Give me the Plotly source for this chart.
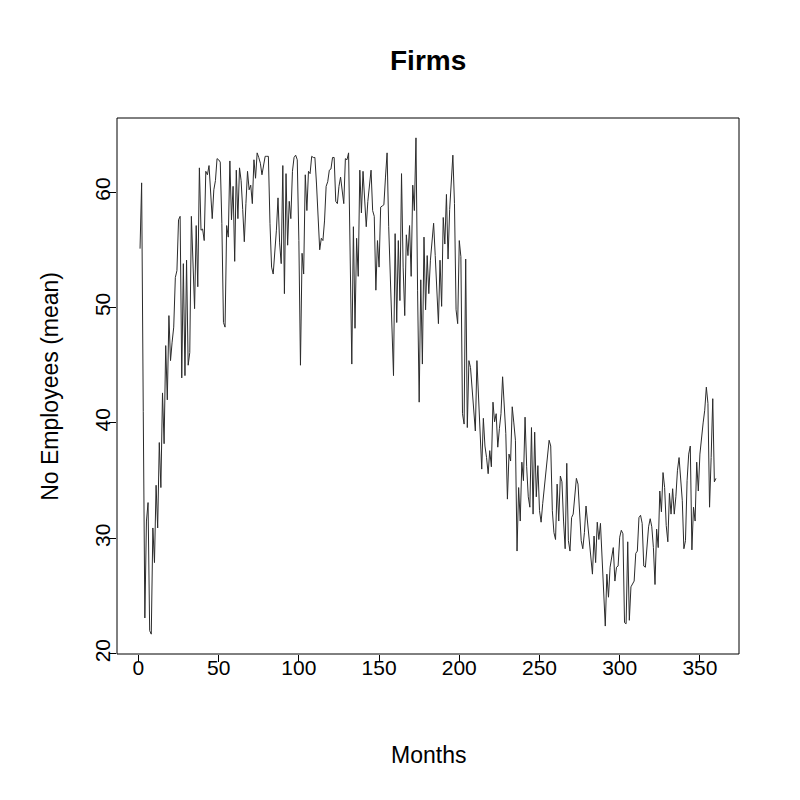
import plotly.graph_objects as go

# mean number of employees per month
months = list(range(1, 361))
employees = [
    55.1, 60.8, 41.0, 23.1, 31.5, 33.1, 22.0, 21.7, 30.9, 27.9,
    34.6, 30.9, 38.3, 34.4, 42.6, 38.2, 46.7, 42.0, 49.3, 45.4,
    47.0, 48.3, 52.6, 53.2, 57.6, 57.9, 43.9, 53.8, 44.1, 54.1,
    45.0, 46.1, 57.9, 53.0, 49.9, 57.1, 51.8, 62.1, 56.7, 56.8,
    55.8, 61.8, 61.5, 62.3, 59.5, 57.7, 60.2, 61.0, 62.9, 62.8,
    62.6, 57.3, 48.7, 48.3, 57.1, 56.1, 62.7, 57.6, 60.5, 54.0,
    61.9, 57.7, 62.1, 61.0, 58.5, 55.7, 59.0, 61.8, 60.2, 60.6,
    59.0, 62.8, 61.2, 63.4, 63.0, 62.5, 61.5, 62.2, 63.1, 63.1,
    63.1, 57.3, 53.5, 52.9, 54.5, 56.7, 59.5, 55.6, 53.8, 62.3,
    51.2, 61.6, 55.4, 59.2, 57.7, 61.8, 63.0, 63.2, 62.8, 55.8,
    45.0, 54.7, 52.9, 61.5, 58.4, 61.8, 61.6, 63.1, 63.0, 63.0,
    60.7, 57.0, 55.0, 56.0, 55.8, 57.5, 60.5, 60.9, 61.9, 62.0,
    63.0, 63.0, 59.2, 59.0, 60.5, 61.3, 60.0, 59.0, 62.9, 62.8,
    63.4, 55.0, 45.1, 57.0, 48.2, 56.0, 52.7, 61.9, 58.2, 61.8,
    59.0, 57.0, 59.2, 60.5, 61.9, 58.4, 57.9, 51.5, 55.8, 53.5,
    58.7, 58.8, 58.9, 61.3, 63.4, 57.0, 52.9, 47.0, 44.1, 56.4,
    48.7, 55.8, 50.6, 61.6, 53.5, 49.3, 56.3, 54.5, 57.1, 52.7,
    60.6, 58.4, 64.7, 51.5, 41.8, 52.4, 45.1, 56.1, 49.8, 54.5,
    51.2, 54.1, 55.5, 57.3, 54.5, 52.1, 48.6, 54.1, 50.1, 57.8,
    55.5, 59.8, 54.2, 58.5, 61.0, 63.2, 59.0, 49.8, 48.6, 55.8,
    54.4, 40.8, 39.9, 54.2, 39.6, 45.4, 44.8, 43.0, 41.1, 39.3,
    45.4, 42.5, 38.5, 36.0, 40.4, 38.0, 37.0, 35.6, 37.6, 36.2,
    41.8, 40.1, 40.8, 37.9, 39.5, 40.8, 44.0, 41.5, 39.1, 33.4,
    37.3, 36.7, 41.4, 40.0, 38.5, 28.9, 34.4, 31.5, 36.6, 35.0,
    40.5, 36.2, 33.6, 32.7, 39.6, 32.1, 39.2, 33.6, 36.3, 32.4,
    31.4, 33.0, 34.4, 35.5, 36.7, 38.5, 38.0, 32.4, 30.5, 29.9,
    34.7, 31.5, 35.4, 34.9, 31.5, 29.1, 36.5, 29.8, 28.9, 31.8,
    32.1, 33.5, 35.2, 34.7, 32.7, 29.8, 29.1, 30.5, 32.8, 31.3,
    29.8, 28.5, 26.9, 30.2, 27.9, 31.4, 29.9, 31.3, 28.7, 24.9,
    22.4, 26.9, 24.9, 27.5, 28.4, 29.2, 26.3, 27.5, 27.6, 30.1,
    30.7, 30.4, 22.7, 22.6, 29.7, 22.9, 25.8, 26.0, 26.3, 28.7,
    28.9, 31.8, 32.0, 31.3, 27.6, 27.5, 29.5, 31.0, 31.7, 31.0,
    29.2, 26.0, 30.8, 29.2, 34.1, 32.3, 35.7, 34.4, 31.1, 29.7,
    33.9, 32.1, 34.3, 32.1, 33.6, 35.9, 37.0, 35.0, 33.3, 29.1,
    29.8, 35.0, 37.3, 38.0, 29.0, 32.7, 31.5, 36.6, 34.1, 37.3,
    38.8, 40.0, 41.1, 43.1, 41.7, 32.7, 37.0, 42.1, 34.9, 35.2,
]
x_ticks = [0, 50, 100, 150, 200, 250, 300, 350]
y_ticks = [20, 30, 40, 50, 60]

# R style axis limits: data range plus 4% on each side
x_pad = (max(months) - min(months)) * 0.04
y_pad = (max(employees) - min(employees)) * 0.04

fig = go.Figure()
fig.add_trace(go.Scatter(
    x=months,
    y=employees,
    mode='lines',
    line=dict(color='#2b2b2b', width=1),
    showlegend=False,
))

font = 'Liberation Sans, Arial, sans-serif'

# the page adds 8px of body margin, so the margins are 8px smaller on top/left
fig.update_layout(
    width=800, height=800,
    paper_bgcolor='white', plot_bgcolor='white',
    margin=dict(l=109, r=69, t=110, b=154),
    font=dict(family=font, size=23, color='black'),
    xaxis=dict(
        range=[min(months) - x_pad, max(months) + x_pad],
        tickvals=x_ticks, ticks='outside', ticklen=7, tickcolor='black',
        tickfont=dict(size=21), ticklabelstandoff=-12,
        showgrid=False, zeroline=False, showline=False,
    ),
    yaxis=dict(
        range=[min(employees) - y_pad, max(employees) + y_pad],
        tickvals=y_ticks, ticks='outside', ticklen=7, tickcolor='black',
        tickfont=dict(size=21), tickangle=-90, ticklabelstandoff=-9,
        showgrid=False, zeroline=False, showline=False,
    ),
    shapes=[dict(
        type='rect', xref='paper', yref='paper', x0=0, x1=1, y0=0, y1=1,
        line=dict(color='black', width=1),
    )],
    annotations=[
        dict(text='<b>Firms</b>', xref='paper', yref='paper', x=0.5, y=1.108,
             showarrow=False, font=dict(size=28), yanchor='middle'),
        dict(text='Months', xref='paper', yref='paper', x=0.5, y=-0.188,
             showarrow=False, yanchor='middle'),
        dict(text='No Employees (mean)', xref='paper', yref='paper', x=-0.108,
             y=0.5, showarrow=False, textangle=-90, xanchor='center'),
    ],
)

fig.write_html("out.html")
